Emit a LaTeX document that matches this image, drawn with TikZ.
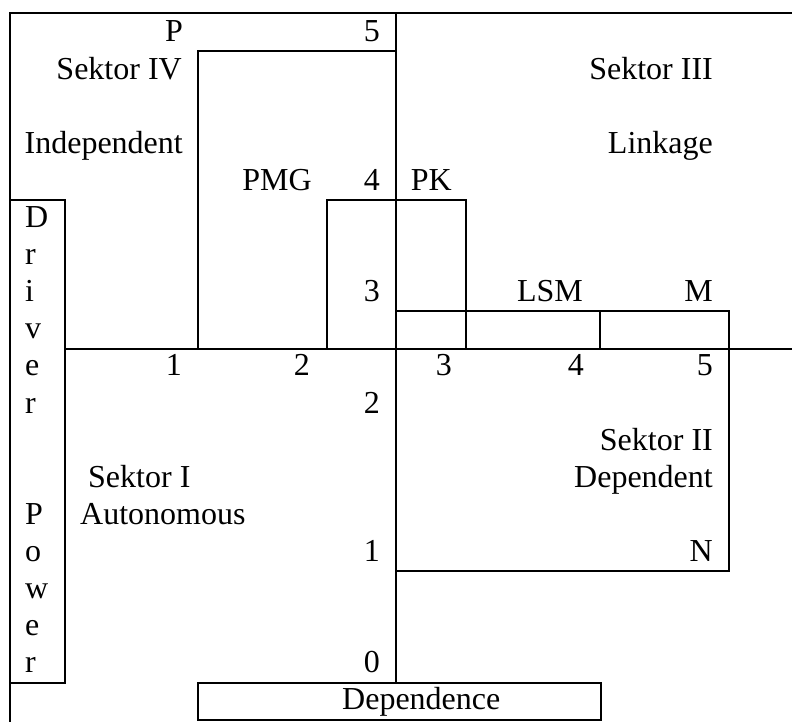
\documentclass[tikz,border=0pt]{standalone}
\usepackage{fontspec}
\setmainfont{Liberation Serif}
\begin{document}
\begin{tikzpicture}[x=1pt,y=-1pt,
  ln/.style={line width=2pt, line cap=rect},
  txt/.style={inner sep=0pt, font=\fontsize{32}{37}\selectfont},
  re/.style={txt, anchor=base east},
  le/.style={txt, anchor=base west}]
\useasboundingbox (0,0) rectangle (792,722);
% frame lines
\draw[ln] (792,13) -- (10,13) -- (10,722);
\draw[ln] (396,13) -- (396,683);
\draw[ln] (198,349) -- (198,51) -- (396,51);
\draw[ln] (327,349) -- (327,200) -- (396,200);
\draw[ln] (10,200) -- (65,200) -- (65,683) -- (10,683);
\draw[ln] (65,349) -- (792,349);
\draw[ln] (396,200) -- (466,200) -- (466,349);
\draw[ln] (396,311) -- (729,311) -- (729,571) -- (396,571);
\draw[ln] (600,311) -- (600,349);
\draw[ln] (198,683) rectangle (601,720);
% texts
\node[re] (p) at (183,{42}) {P};
\node[re] (t5) at (380,{42}) {5};
\node[re] (s4) at (182,{42+37.1}) {Sektor IV};
\node[re] (ind) at (183,{42+3*37.1}) {Independent};
\node[re] (pmg) at (312,{42+4*37.1}) {PMG};
\node[re] (t4) at (380,{42+4*37.1}) {4};
\node[re] (pk) at (452,{42+4*37.1}) {PK};
\node[re] (s3) at (713,{42+37.1}) {Sektor III};
\node[re] (lnk) at (713,{42+3*37.1}) {Linkage};
\node[re] (t3) at (380,{42+7*37.1}) {3};
\node[re] (lsm) at (583,{42+7*37.1}) {LSM};
\node[re] (m) at (713,{42+7*37.1}) {M};
\node[re] (b1) at (182,{42+9*37.1}) {1};
\node[re] (b2) at (310,{42+9*37.1}) {2};
\node[re] (b3) at (452,{42+9*37.1}) {3};
\node[re] (b4) at (584,{42+9*37.1}) {4};
\node[re] (b5) at (713,{42+9*37.1}) {5};
\node[re] (t2) at (380,{42+10*37.1}) {2};
\node[le] (s1) at (88,{42+12*37.1}) {Sektor I};
\node[le] (aut) at (80,{42+13*37.1}) {Autonomous};
\node[re] (s2) at (713,{42+11*37.1}) {Sektor II};
\node[re] (dep) at (713,{42+12*37.1}) {Dependent};
\node[re] (t1) at (380,{42+14*37.1}) {1};
\node[re] (n) at (713,{42+14*37.1}) {N};
\node[re] (t0) at (380,{42+17*37.1}) {0};
\node[le] (dnc) at (342,{42+18*37.1}) {Dependence};
% Driver Power
\foreach \ch [count=\i from 5] in {D,r,i,v,e,r}
  \node[le] (dr\i) at (25,{42+\i*37.1}) {\ch};
\foreach \ch [count=\i from 13] in {P,o,w,e,r}
  \node[le] (pw\i) at (25,{42+\i*37.1}) {\ch};
\end{tikzpicture}
\end{document}
